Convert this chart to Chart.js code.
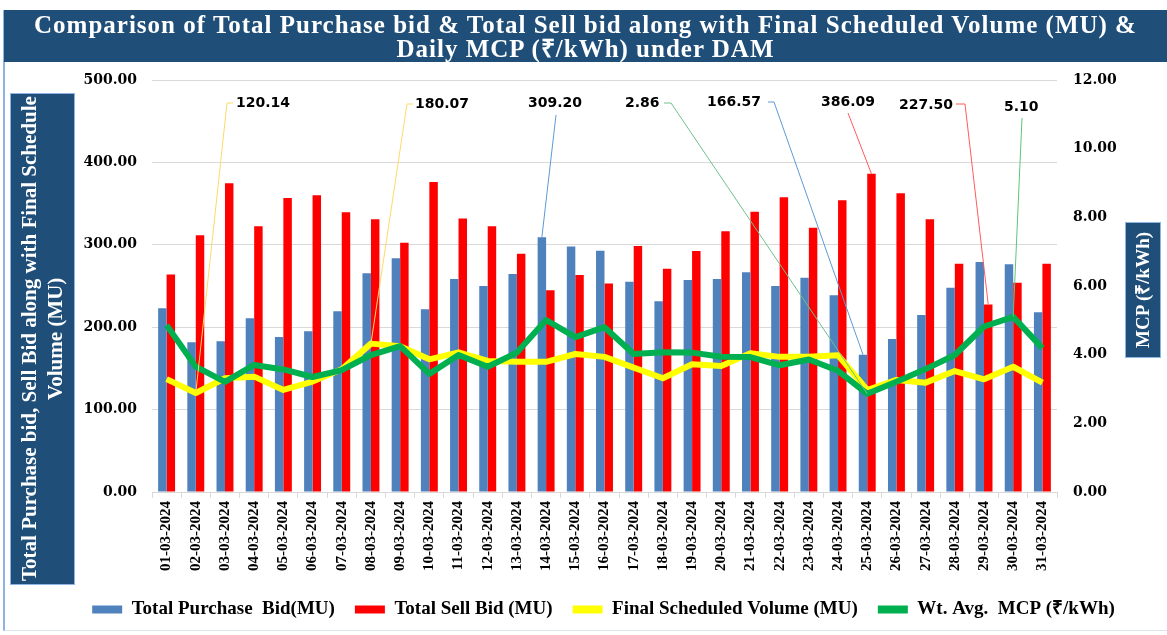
<!DOCTYPE html>
<html>
<head>
<meta charset="utf-8">
<script src="https://cdn.jsdelivr.net/npm/chart.js@4.4.1/dist/chart.umd.min.js"></script>
<style>
  body { margin: 0; background: #fff; }
  #wrap { position: relative; width: 1167px; height: 635px; overflow: hidden; background: #fff; }
  #frame { position: absolute; left: 3px; top: 10px; width: 1164px; height: 621px; border-left: 2px solid #8db4e2; border-bottom: 1px solid #dde4ee; box-sizing: border-box; }
  #title { position: absolute; left: 4px; top: 10px; width: 1163px; height: 52px; background: #1f4e79; color: #fff;
           font: bold 25px "Liberation Serif", serif; line-height: 24px; letter-spacing: 1px; text-align: center; padding-top: 3px; box-sizing: border-box; }
  #chartBox { position: absolute; left: 0; top: 0; width: 1167px; height: 635px; }
  .axisTitle { position: absolute; background: #1f4e79; color: #fff; font-family: "Liberation Serif", serif; font-weight: bold;
               writing-mode: vertical-rl; transform: rotate(180deg); display: flex; align-items: center; justify-content: center;
               text-align: center; border: 1px solid #8db4e2; box-sizing: border-box; }
  #yLeft { left: 10px; top: 93px; width: 65px; height: 492px; font-size: 21px; line-height: 26px; }
  #yRight { left: 1125px; top: 222px; width: 36px; height: 136px; font-size: 19px; }
</style>
</head>
<body>
<div id="wrap">
  <div id="frame"></div>
  <div id="chartBox"><canvas id="chart"></canvas></div>
  <div id="title">Comparison of Total Purchase bid &amp; Total Sell bid along with Final Scheduled Volume (MU) &amp;<br>Daily MCP (₹/kWh) under DAM</div>
  <div id="yLeft" class="axisTitle">Total Purchase bid, Sell Bid along with Final Schedule Volume (MU)</div>
  <div id="yRight" class="axisTitle">MCP (₹/kWh)</div>
</div>
<script>
const dates = [
  "01-03-2024", "02-03-2024", "03-03-2024", "04-03-2024", "05-03-2024", "06-03-2024", "07-03-2024", "08-03-2024",
  "09-03-2024", "10-03-2024", "11-03-2024", "12-03-2024", "13-03-2024", "14-03-2024", "15-03-2024", "16-03-2024",
  "17-03-2024", "18-03-2024", "19-03-2024", "20-03-2024", "21-03-2024", "22-03-2024", "23-03-2024", "24-03-2024",
  "25-03-2024", "26-03-2024", "27-03-2024", "28-03-2024", "29-03-2024", "30-03-2024", "31-03-2024"
];

const purchaseBid = [223.0, 181.6, 183.0, 210.8, 188.0, 195.0, 219.3, 265.4, 283.6, 221.7, 258.5, 250.0, 264.6, 309.20, 298.0, 292.9,
  255.3, 231.4, 257.3, 258.5, 266.6, 250.0, 260.0, 238.7, 166.57, 185.7, 214.8, 248.0, 279.0, 276.3, 218.0];

const sellBid = [264.0, 311.5, 374.6, 322.4, 356.8, 360.0, 339.4, 331.0, 302.6, 376.2, 332.0, 322.4, 289.0, 244.8, 263.3, 253.0,
  298.5, 271.0, 292.5, 316.4, 340.2, 357.6, 320.8, 354.0, 386.09, 362.5, 331.0, 277.0, 227.50, 254.0, 277.0];

const scheduledVolume = [137.0, 120.14, 138.0, 140.0, 123.8, 134.0, 149.0, 180.07, 177.0, 161.0, 169.5, 159.0, 158.0, 158.0, 167.5, 164.0,
  151.0, 138.0, 155.0, 153.0, 168.5, 164.0, 164.0, 166.0, 123.8, 136.0, 132.7, 146.8, 136.7, 152.0, 132.7];

const mcp = [4.86, 3.65, 3.21, 3.70, 3.57, 3.35, 3.55, 3.99, 4.25, 3.44, 3.99, 3.65, 4.06, 5.01, 4.51, 4.80,
  4.02, 4.07, 4.06, 3.94, 3.93, 3.69, 3.86, 3.53, 2.86, 3.21, 3.58, 3.99, 4.82, 5.10, 4.19];

const leftTicks = [0, 100, 200, 300, 400, 500];
const rightTicks = [0, 2, 4, 6, 8, 10, 12];

// callout labels: dataset index, point index, where the text sits, and the leader path up to the point
const callouts = [
  { ds: 2, i: 1,  tx: 236,  ty: 103, path: [[233, 103], [227, 103]], color: "#ffd966" },
  { ds: 2, i: 7,  tx: 415,  ty: 104, path: [[413, 104], [407, 104]], color: "#ffd966" },
  { ds: 0, i: 13, tx: 528,  ty: 103, path: [[556, 115]], color: "#5b9bd5" },
  { ds: 3, i: 24, tx: 625,  ty: 103, path: [[664, 103], [671, 103]], color: "#70c08c" },
  { ds: 0, i: 24, tx: 707,  ty: 102, path: [[768, 102], [774, 102]], color: "#5b9bd5" },
  { ds: 1, i: 24, tx: 821,  ty: 102, path: [[848, 113]], color: "#ff5b5b" },
  { ds: 1, i: 28, tx: 899,  ty: 105, path: [[956, 104], [965, 104]], color: "#ff5b5b" },
  { ds: 3, i: 29, tx: 1004, ty: 107, path: [[1022, 118]], color: "#5fc47a" }
];

const calloutPlugin = {
  id: "callouts",
  afterDatasetsDraw(chart) {
    const ctx = chart.ctx;
    ctx.save();
    ctx.font = 'bold 14px "DejaVu Sans", sans-serif';
    ctx.textBaseline = "middle";
    ctx.textAlign = "left";
    callouts.forEach(c => {
      const el = chart.getDatasetMeta(c.ds).data[c.i];
      const value = chart.data.datasets[c.ds].data[c.i];
      ctx.strokeStyle = c.color;
      ctx.lineWidth = 1;
      ctx.beginPath();
      ctx.moveTo(c.path[0][0], c.path[0][1]);
      c.path.slice(1).forEach(p => ctx.lineTo(p[0], p[1]));
      ctx.lineTo(el.x, el.y);
      ctx.stroke();
      ctx.fillStyle = "#000";
      ctx.fillText(value.toFixed(2), c.tx, c.ty);
    });
    ctx.restore();
  }
};

const tickFont = { family: "DejaVu Serif", weight: "bold", size: 14 };

new Chart(document.getElementById("chart"), {
  type: "bar",
  data: {
    labels: dates,
    datasets: [
      {
        label: "Total Purchase  Bid(MU)",
        data: purchaseBid,
        backgroundColor: "#4f81bd",
        yAxisID: "y",
        order: 3,
        categoryPercentage: 0.58,
        barPercentage: 1.0
      },
      {
        label: "Total Sell Bid (MU)",
        data: sellBid,
        backgroundColor: "#ff0000",
        yAxisID: "y",
        order: 4,
        categoryPercentage: 0.58,
        barPercentage: 1.0
      },
      {
        type: "line",
        label: "Final Scheduled Volume (MU)",
        data: scheduledVolume,
        borderColor: "#ffff00",
        backgroundColor: "#ffff00",
        borderWidth: 6,
        pointRadius: 0,
        tension: 0,
        borderJoinStyle: "round",
        yAxisID: "y",
        order: 2
      },
      {
        type: "line",
        label: "Wt. Avg.  MCP (₹/kWh)",
        data: mcp,
        borderColor: "#00b050",
        backgroundColor: "#00b050",
        borderWidth: 6,
        pointRadius: 0,
        tension: 0,
        borderJoinStyle: "round",
        yAxisID: "y1",
        order: 1
      }
    ]
  },
  options: {
    responsive: true,
    maintainAspectRatio: false,
    animation: false,
    layout: { padding: { left: 40, right: 0, top: 80, bottom: 6 } },
    plugins: {
      tooltip: { enabled: false },
      legend: {
        position: "bottom",
        labels: {
          font: { family: "Liberation Serif", weight: "bold", size: 19 },
          color: "#000",
          boxWidth: 30,
          boxHeight: 8,
          padding: 20,
          generateLabels: chart =>
            Chart.defaults.plugins.legend.labels.generateLabels(chart).map(l => ({ ...l, lineWidth: 0 })),
          sort: (a, b) => a.datasetIndex - b.datasetIndex
        }
      }
    },
    scales: {
      x: {
        offset: true,
        grid: { offset: true, drawOnChartArea: false, color: "#d9d9d9", tickLength: 6 },
        border: { color: "#d9d9d9" },
        ticks: {
          autoSkip: false,
          minRotation: 90,
          maxRotation: 90,
          padding: 3,
          color: "#000",
          font: { family: "Liberation Serif", weight: "bold", size: 15 }
        },
        afterFit: s => { s.height = 88; }
      },
      y: {
        position: "left",
        min: 0,
        max: 500,
        afterBuildTicks: s => { s.ticks = leftTicks.map(v => ({ value: v })); },
        ticks: { callback: v => v.toFixed(2), padding: 15, color: "#000", font: tickFont },
        grid: { color: "#d9d9d9", drawTicks: false },
        border: { display: false },
        afterFit: s => { s.width = 112; }
      },
      y1: {
        position: "right",
        min: 0,
        max: 12,
        afterBuildTicks: s => { s.ticks = rightTicks.map(v => ({ value: v })); },
        ticks: { callback: v => v.toFixed(2), padding: 16, color: "#000", font: tickFont },
        grid: { drawOnChartArea: false, drawTicks: false },
        border: { display: false },
        afterFit: s => { s.width = 110; }
      }
    }
  },
  plugins: [calloutPlugin]
});
</script>
</body>
</html>
